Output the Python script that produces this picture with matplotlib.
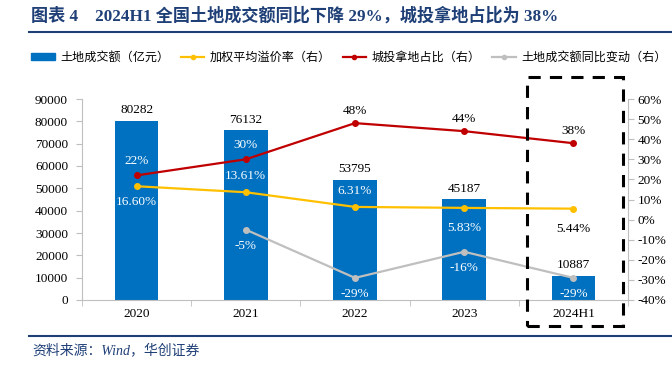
import matplotlib.pyplot as plt
import numpy as np
from matplotlib.lines import Line2D
from matplotlib.patches import Patch, Rectangle

plt.rcParams['font.family'] = ['Liberation Serif', 'Noto Sans CJK SC']

years = ['2020', '2021', '2022', '2023', '2024H1']
amount = [80282, 76132, 53795, 45187, 10887]          # 土地成交额（亿元）
premium = [16.60, 13.61, 6.31, 5.83, 5.44]             # 加权平均溢价率
chengtou = [22, 30, 48, 44, 38]                        # 城投拿地占比
yoy = [np.nan, -5, -29, -16, -29]                      # 土地成交额同比变动

blue = '#0070C0'
yellow = '#FFC000'
red = '#C00000'
grey = '#BFBFBF'
navy = '#1F3F77'
cjk = ['Noto Sans CJK SC', 'DejaVu Sans']
serif_cjk = ['Liberation Serif', 'Noto Sans CJK SC']

fig = plt.figure(figsize=(6.72, 3.66), dpi=100)
W, H = 672, 366

def fx(px):
    return px / W

def fy(py):
    return 1 - py / H

# title and rules
fig.text(fx(31), fy(16), '图表 4    2024H1 全国土地成交额同比下降 29%，城投拿地占比为 38%',
         fontsize=12.3, fontweight='bold', color=navy, va='center', family=serif_cjk)
fig.add_artist(Line2D([fx(29), fx(672)], [fy(32), fy(32)], color=navy, lw=1.5))
fig.add_artist(Line2D([fx(29), fx(672)], [fy(336), fy(336)], color=navy, lw=1.5))
fig.text(fx(32), fy(350), '资料来源：Wind，华创证券', fontsize=10, style='italic',
         color=navy, va='center', family=serif_cjk)

ax = fig.add_axes([fx(82), fy(300), fx(628) - fx(82), fy(99) - fy(300)])
x = np.arange(len(years))
bars = ax.bar(x, amount, width=0.4, color=blue, zorder=1)
ax.set_ylim(0, 90000)
ax.set_xlim(-0.5, len(years) - 0.5)
ax.set_yticks(range(0, 90001, 10000))
ax.set_xticks(x)
ax.set_xticklabels(years)
ax.tick_params(labelsize=9.5, length=0, pad=6)
for s in ['top', 'right']:
    ax.spines[s].set_visible(False)
for s in ['left', 'bottom']:
    ax.spines[s].set_color('#BFBFBF')
ax.set_xticks(np.arange(-0.5, len(years), 1), minor=True)
ax.tick_params(axis='x', which='minor', length=4, color='#BFBFBF')
ax.tick_params(axis='y', which='major', length=4, color='#BFBFBF', direction='out')

for xi, v in zip(x, amount):
    ax.text(xi, v + 2000, str(v), ha='center', va='bottom', fontsize=9.5)

ax2 = ax.twinx()
ax2.set_ylim(-40, 60)
ax2.set_yticks(range(-40, 61, 10))
ax2.set_yticklabels([f'{t}%' for t in range(-40, 61, 10)])
ax2.tick_params(labelsize=9.5, length=4, color='#BFBFBF', pad=3)
for s in ['top', 'left', 'bottom']:
    ax2.spines[s].set_visible(False)
ax2.spines['right'].set_color('#BFBFBF')

ax2.plot(x, premium, color=yellow, lw=1.6, marker='o', ms=4, zorder=3)
ax2.plot(x, chengtou, color=red, lw=1.6, marker='o', ms=4, zorder=3)
ax2.plot(x, yoy, color=grey, lw=1.6, marker='o', ms=4, zorder=3)

# labels: (offset in %, colour)
red_off = [(7, 'white'), (7, 'white'), (6, 'black'), (6, 'black'), (6, 'black')]
for xi, v, (o, c) in zip(x, chengtou, red_off):
    ax2.text(xi, v + o, f'{v}%', ha='center', va='center', fontsize=9.5, color=c)
yel_off = [(-8, 'white'), (8, 'white'), (8, 'white'), (-10, 'white'), (-10, 'black')]
for xi, v, (o, c) in zip(x, premium, yel_off):
    ax2.text(xi, v + o, f'{v:.2f}%', ha='center', va='center', fontsize=9.5, color=c)
for xi, v in zip(x, yoy):
    if not np.isnan(v):
        ax2.text(xi, v - 8, f'{v:.0f}%', ha='center', va='center', fontsize=9.5, color='white')

# dashed highlight box around 2024H1
fig.add_artist(Rectangle((fx(527), fy(326)), fx(623) - fx(527), fy(77) - fy(326),
                         fill=False, ls=(0, (4, 3)), lw=2.2, ec='black'))

handles = [Patch(color=blue),
           Line2D([], [], color=yellow, marker='o', ms=3, lw=1.6),
           Line2D([], [], color=red, marker='o', ms=3, lw=1.6),
           Line2D([], [], color=grey, marker='o', ms=3, lw=1.6)]
labels = ['土地成交额（亿元）', '加权平均溢价率（右）', '城投拿地占比（右）', '土地成交额同比变动（右）']
fig.legend(handles, labels, loc='center', bbox_to_anchor=(fx(349), fy(57)), ncol=4,
           frameon=False, prop={'family': cjk, 'size': 8.7}, handlelength=1.95,
           handleheight=0.5, columnspacing=0.95, handletextpad=0.45,
           borderpad=0, borderaxespad=0)

fig.savefig('out.png', dpi=100)
